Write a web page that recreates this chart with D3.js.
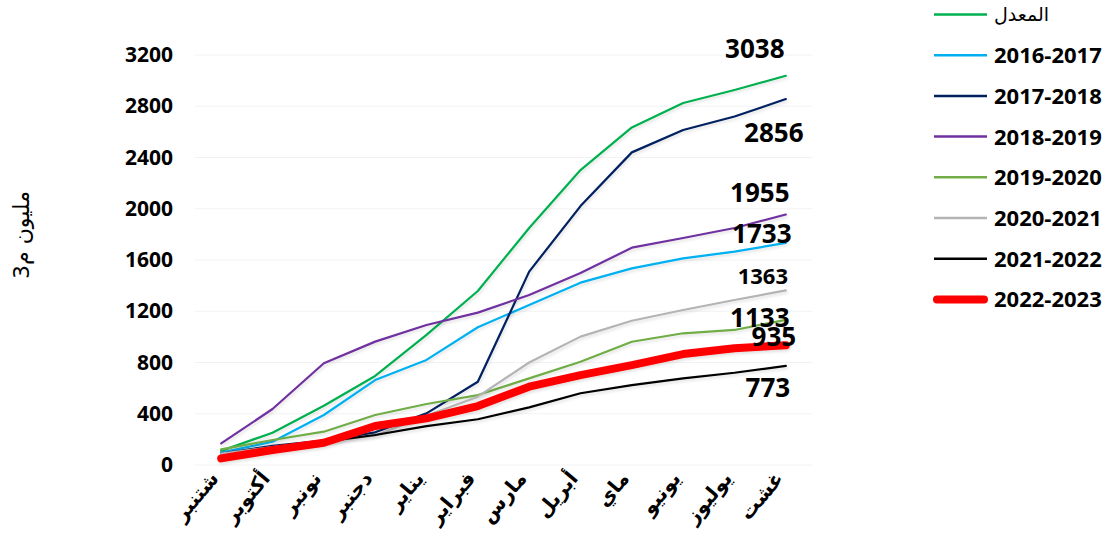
<!DOCTYPE html>
<html>
<head>
<meta charset="utf-8">
<script src="https://cdn.jsdelivr.net/npm/d3@7"></script>
<style>
  body { margin: 0; background: #fff; }
  svg { display: block; font-family: "Open Sans", "DejaVu Sans", sans-serif; }
</style>
</head>
<body>
<svg id="chart" width="1116" height="552"></svg>
<script>
const months = ["شتنبر", "أكتوبر", "نونبر", "دجنبر", "يناير", "فبراير", "مارس", "أبريل", "ماي", "يونيو", "يوليوز", "غشت"];
const seriesNames = ["المعدل", "2016-2017", "2017-2018", "2018-2019", "2019-2020", "2020-2021", "2021-2022", "2022-2023"];
const yTicks = [0, 400, 800, 1200, 1600, 2000, 2400, 2800, 3200];

const avg = [110, 252, 463, 695, 1015, 1358, 1850, 2302, 2635, 2825, 2927, 3038];
const s2016 = [96, 182, 390, 663, 820, 1075, 1249, 1423, 1535, 1613, 1665, 1733];
const s2017 = [90, 150, 190, 255, 403, 650, 1509, 2021, 2440, 2615, 2720, 2856];
const s2018 = [169, 437, 794, 963, 1093, 1189, 1327, 1498, 1696, 1772, 1850, 1955];
const s2019 = [122, 195, 260, 390, 476, 546, 676, 806, 962, 1028, 1054, 1133];
const s2020 = [90, 140, 180, 230, 385, 533, 800, 1002, 1126, 1210, 1288, 1363];
const s2021 = [65, 130, 182, 234, 304, 357, 450, 560, 624, 676, 720, 773];
const s2022 = [52, 117, 174, 304, 364, 460, 611, 702, 780, 866, 911, 935];
const allSeries = [avg, s2016, s2017, s2018, s2019, s2020, s2021, s2022];

const colors = ["#00B050", "#00B0F0", "#002060", "#7030A0", "#70AD47", "#B4B4B4", "#000000", "#FF0000"];
const widths = [2.2, 2.2, 2.2, 2.2, 2.2, 2.2, 2.2, 8];
// end label offsets from the last point [dx, dy, size]
const labelPos = [[-31, -18, 26], [-24, 0, 26], [-12, 43, 26], [-26, -13, 26], [-26, 7, 26], [-23, -6, 22], [-18, 31, 26], [-12, 1, 26]];

const svg = d3.select("#chart");

const x = d3.scalePoint().domain(months).range([195.5, 811.5]).padding(0.5);
const y = d3.scaleLinear().domain([0, 3200]).range([465, 55]);

const defs = svg.append("defs");
const f = defs.append("filter").attr("id", "shadow").attr("x", "-5%").attr("y", "-5%").attr("width", "110%").attr("height", "120%");
f.append("feDropShadow").attr("dx", 1).attr("dy", 2).attr("stdDeviation", 1.5).attr("flood-color", "#000").attr("flood-opacity", 0.12);

// faint gridlines
svg.append("g")
  .selectAll("line")
  .data(yTicks)
  .join("line")
  .attr("x1", 195)
  .attr("x2", 812)
  .attr("y1", (d) => y(d))
  .attr("y2", (d) => y(d))
  .attr("stroke", "#F2F2F2")
  .attr("stroke-width", 1);

// y axis
const yAxis = svg.append("g")
  .attr("transform", "translate(173,0)")
  .call(d3.axisLeft(y).tickValues(yTicks).tickFormat(d3.format("d")).tickSize(0).tickPadding(0));
yAxis.select(".domain").remove();
yAxis.selectAll("text")
  .attr("font-size", 21)
  .attr("font-weight", "bold")
  .attr("fill", "#000")
  .attr("font-family", "'Open Sans', sans-serif");

// x axis
const xAxis = svg.append("g")
  .attr("transform", "translate(0,465)")
  .call(d3.axisBottom(x).tickSize(0).tickPadding(0));
xAxis.select(".domain").remove();
xAxis.selectAll("text")
  .attr("font-size", 20)
  .attr("font-weight", "bold")
  .attr("fill", "#000")
  .attr("font-family", "'DejaVu Sans', sans-serif")
  .attr("text-anchor", "end")
  .attr("dy", null)
  .attr("y", 0)
  .attr("transform", "translate(-2,14) rotate(-50)");

// y axis title
svg.append("text")
  .attr("transform", "translate(29,235) rotate(-90)")
  .attr("text-anchor", "middle")
  .attr("font-size", 22)
  .attr("font-family", "'DejaVu Sans', sans-serif")
  .text("مليون م3");

// lines
const line = d3.line()
  .x((d, i) => x(months[i]))
  .y((d) => y(d));

svg.append("g")
  .selectAll("path")
  .data(allSeries)
  .join("path")
  .attr("d", line)
  .attr("fill", "none")
  .attr("stroke", (d, i) => colors[i])
  .attr("stroke-width", (d, i) => widths[i])
  .attr("stroke-linejoin", "round")
  .attr("stroke-linecap", "round")
  .attr("filter", "url(#shadow)");

// end labels
svg.append("g")
  .selectAll("text")
  .data(allSeries)
  .join("text")
  .attr("x", (d, i) => x(months[11]) + labelPos[i][0])
  .attr("y", (d, i) => y(d[11]) + labelPos[i][1])
  .attr("text-anchor", "middle")
  .attr("font-size", (d, i) => labelPos[i][2])
  .attr("font-weight", "bold")
  .text((d) => d[11]);

// legend
const lg = svg.append("g")
  .selectAll("g")
  .data(seriesNames)
  .join("g")
  .attr("transform", (d, i) => `translate(934, ${14.5 + i * 40.7})`);

lg.append("line")
  .attr("x1", (d, i) => (i === 7 ? 3 : 0))
  .attr("x2", (d, i) => (i === 7 ? 50 : 53))
  .attr("stroke", (d, i) => colors[i])
  .attr("stroke-width", (d, i) => (i === 7 ? 8 : 2.5))
  .attr("stroke-linecap", (d, i) => (i === 7 ? "round" : "butt"));

lg.append("text")
  .attr("x", 60)
  .attr("dy", "0.36em")
  .attr("font-size", (d, i) => (i === 0 ? 19 : 22))
  .attr("font-weight", (d, i) => (i === 0 ? "normal" : "bold"))
  .attr("font-family", (d, i) => (i === 0 ? "'DejaVu Sans', sans-serif" : null))
  .text((d) => d);
</script>
</body>
</html>
